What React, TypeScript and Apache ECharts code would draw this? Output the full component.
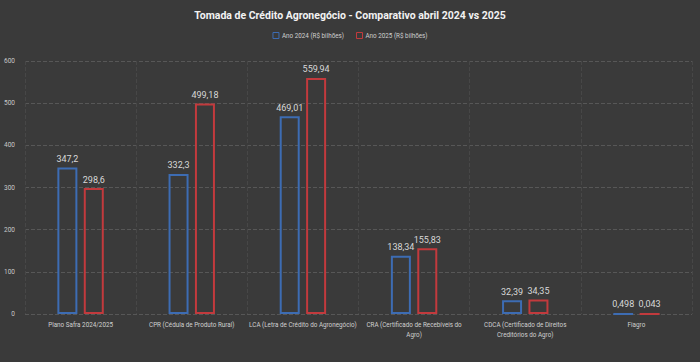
import React, { useEffect, useRef } from "react";
import * as echarts from "echarts";

const titleText = "Tomada de Crédito Agronegócio - Comparativo abril 2024 vs 2025";
const categories = [
  "Plano Safra 2024/2025",
  "CPR (Cédula de Produto Rural)",
  "LCA (Letra de Crédito do Agronegócio)",
  "CRA (Certificado de Recebíveis do\nAgro)",
  "CDCA (Certificado de Direitos\nCreditórios do Agro)",
  "Fiagro",
];
const seriesNames = ["Ano 2024 (R$ bilhões)", "Ano 2025 (R$ bilhões)"];
const values2024 = [347.2, 332.3, 469.01, 138.34, 32.39, 0.498];
const values2025 = [298.6, 499.18, 559.94, 155.83, 34.35, 0.043];
const yTicks = { min: 0, max: 600, interval: 100 };

const BLUE = "#3d6cb3";
const RED = "#c23a3d";
const FONT = "Roboto, 'Noto Sans', sans-serif";

export default function App() {
  const ref = useRef<HTMLDivElement>(null);
  useEffect(() => {
    if (!ref.current) return;
    const chart = echarts.init(ref.current, null, { renderer: "svg" });
    const fmt = (p: any) => String(p.value).replace(".", ",");
    const mkSeries = (name: string, data: number[], color: string) => ({
      name,
      type: "bar",
      data,
      barWidth: 20,
      barGap: "32%",
      itemStyle: { color: "rgba(0,0,0,0)", borderColor: color, borderWidth: 2 },
      label: {
        show: true,
        position: "top",
        distance: 4,
        color: "#d8d8d8",
        fontSize: 9,
        fontFamily: FONT,
        formatter: fmt,
      },
    });
    chart.setOption({
      animation: false,
      backgroundColor: "#3a3a3a",
      textStyle: { fontFamily: FONT },
      title: {
        text: titleText,
        left: "center",
        top: 5,
        textStyle: { color: "#f2f2f2", fontSize: 10.5, fontWeight: "bold", fontFamily: FONT },
      },
      legend: {
        top: 27,
        left: "center",
        itemWidth: 6,
        itemHeight: 6,
        itemGap: 12,
        icon: "rect",
        textStyle: { color: "#cfcfcf", fontSize: 6.3, fontFamily: FONT, padding: [0, 0, 0, -2] },
        data: [
          { name: seriesNames[0], itemStyle: { color: "rgba(0,0,0,0)", borderColor: BLUE, borderWidth: 1 } },
          { name: seriesNames[1], itemStyle: { color: "rgba(0,0,0,0)", borderColor: RED, borderWidth: 1 } },
        ],
      },
      grid: { left: 25, right: 8, top: 61, bottom: 48 },
      xAxis: {
        type: "category",
        data: categories,
        axisLine: { show: false },
        axisTick: { show: false },
        splitLine: { show: true, lineStyle: { color: "#474747", type: "dashed", width: 1 } },
        axisLabel: {
          color: "#d0d0d0",
          fontSize: 6.3,
          fontFamily: FONT,
          margin: 6,
          interval: 0,
          lineHeight: 10,
        },
      },
      yAxis: {
        type: "value",
        min: yTicks.min,
        max: yTicks.max,
        interval: yTicks.interval,
        axisLine: { show: false },
        axisTick: { show: false },
        splitLine: { show: true, lineStyle: { color: "#575757", type: "dashed", width: 1 } },
        axisLabel: { color: "#c8c8c8", fontSize: 6.5, fontFamily: FONT, margin: 10 },
      },
      series: [mkSeries(seriesNames[0], values2024, BLUE), mkSeries(seriesNames[1], values2025, RED)],
    });
    return () => chart.dispose();
  }, []);
  return <div ref={ref} style={{ width: 700, height: 362, position: "absolute", left: 0, top: 0 }} />;
}
